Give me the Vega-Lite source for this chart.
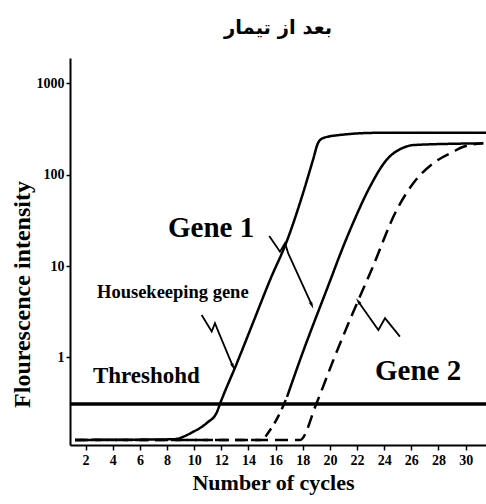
{
  "$schema": "https://vega.github.io/schema/vega-lite/v6.json",
  "width": 416,
  "height": 387,
  "autosize": "none",
  "padding": {"left": 70, "top": 58, "right": 0, "bottom": 59},
  "background": "white",
  "title": {"text": "بعد از تیمار", "font": "DejaVu Sans", "fontSize": 19.5, "fontWeight": "bold", "color": "black", "baseline": "alphabetic", "offset": 5},
  "config": {"view": {"stroke": null}, "axis": {"labelOverlap": false}},
  "datasets": {
    "curves": [
      {"series": "Housekeeping gene", "x": 1.22, "y": 0.125},
      {"series": "Housekeeping gene", "x": 8.44, "y": 0.127},
      {"series": "Housekeeping gene", "x": 9.91, "y": 0.153},
      {"series": "Housekeeping gene", "x": 10.94, "y": 0.192},
      {"series": "Housekeeping gene", "x": 11.68, "y": 0.253},
      {"series": "Housekeeping gene", "x": 11.9, "y": 0.31},
      {"series": "Housekeeping gene", "x": 13.15, "y": 0.87},
      {"series": "Housekeeping gene", "x": 14.33, "y": 2.39},
      {"series": "Housekeeping gene", "x": 15.59, "y": 7.06},
      {"series": "Housekeeping gene", "x": 16.84, "y": 19},
      {"series": "Housekeeping gene", "x": 18.02, "y": 63},
      {"series": "Housekeeping gene", "x": 18.75, "y": 145},
      {"series": "Housekeeping gene", "x": 19.12, "y": 222},
      {"series": "Housekeeping gene", "x": 19.49, "y": 252},
      {"series": "Housekeeping gene", "x": 20.74, "y": 273},
      {"series": "Housekeeping gene", "x": 23.47, "y": 288},
      {"series": "Housekeeping gene", "x": 31.5, "y": 288},
      {"series": "Gene 1 (baseline)", "x": 1.22, "y": 0.125},
      {"series": "Gene 1 (baseline)", "x": 15.0, "y": 0.125},
      {"series": "Gene 1 (baseline)", "x": 15.44, "y": 0.149},
      {"series": "Gene 1 (baseline)", "x": 16.32, "y": 0.247},
      {"series": "Gene 1 (baseline)", "x": 16.84, "y": 0.37},
      {"series": "Gene 1", "x": 16.84, "y": 0.37},
      {"series": "Gene 1", "x": 17.8, "y": 0.94},
      {"series": "Gene 1", "x": 20.13, "y": 7.67},
      {"series": "Gene 1", "x": 20.74, "y": 13.3},
      {"series": "Gene 1", "x": 21.72, "y": 30},
      {"series": "Gene 1", "x": 22.95, "y": 74},
      {"series": "Gene 1", "x": 24.18, "y": 146},
      {"series": "Gene 1", "x": 25.41, "y": 198},
      {"series": "Gene 1", "x": 26.2, "y": 212},
      {"series": "Gene 1", "x": 31.3, "y": 221},
      {"series": "Gene 2", "x": 1.22, "y": 0.125},
      {"series": "Gene 2", "x": 17.8, "y": 0.125},
      {"series": "Gene 2", "x": 19.03, "y": 0.32},
      {"series": "Gene 2", "x": 20.26, "y": 0.94},
      {"series": "Gene 2", "x": 21.72, "y": 3.15},
      {"series": "Gene 2", "x": 23.08, "y": 9.2},
      {"series": "Gene 2", "x": 24.92, "y": 41.2},
      {"series": "Gene 2", "x": 26.14, "y": 80.8},
      {"series": "Gene 2", "x": 27.62, "y": 134},
      {"series": "Gene 2", "x": 29.09, "y": 179},
      {"series": "Gene 2", "x": 29.83, "y": 203},
      {"series": "Gene 2", "x": 31.3, "y": 221}
    ],
    "threshold": [{"threshold": 0.31}],
    "arrows": [
      {"arrow": "hk", "x": 10.55, "y": 2.92},
      {"arrow": "hk", "x": 11.29, "y": 1.92},
      {"arrow": "hk", "x": 11.53, "y": 2.37},
      {"arrow": "hk", "x": 11.78, "y": 1.92},
      {"arrow": "hk", "x": 12.85, "y": 0.8},
      {"arrow": "g1", "x": 15.53, "y": 21.4},
      {"arrow": "g1", "x": 16.32, "y": 14.4},
      {"arrow": "g1", "x": 16.69, "y": 17.8},
      {"arrow": "g1", "x": 16.93, "y": 13.8},
      {"arrow": "g1", "x": 18.66, "y": 3.76},
      {"arrow": "g2", "x": 25.16, "y": 1.69},
      {"arrow": "g2", "x": 24.06, "y": 2.69},
      {"arrow": "g2", "x": 23.57, "y": 2.0},
      {"arrow": "g2", "x": 22.1, "y": 4.08}
    ],
    "tips": [
      {"arrow": "hk", "x": 12.85, "y": 0.8},
      {"arrow": "g1", "x": 18.66, "y": 3.76},
      {"arrow": "g2", "x": 22.1, "y": 4.08}
    ],
    "bigLabels": [
      {"label": "Gene 1", "x": 8.07, "y": 20.9},
      {"label": "Gene 2", "x": 23.32, "y": 0.567}
    ],
    "midLabels": [
      {"label": "Threshohd", "x": 2.54, "y": 0.526}
    ],
    "smallLabels": [
      {"label": "Housekeeping gene", "x": 2.84, "y": 4.48}
    ]
  },
  "layer": [
    {
      "data": {"name": "curves"},
      "mark": {"type": "line", "interpolate": "monotone", "strokeWidth": 2.5, "color": "black"},
      "encoding": {
        "x": {"field": "x", "type": "quantitative",
          "scale": {"domain": [0.85, 31.5], "nice": false, "zero": false},
          "axis": {"values": [2, 4, 6, 8, 10, 12, 14, 16, 18, 20, 22, 24, 26, 28, 30], "tickCount": 30, "title": "Number of cycles", "grid": false, "labelOverlap": false,
            "titleFont": "Liberation Serif", "titleFontSize": 22, "titleFontWeight": "bold", "titleColor": "black", "titlePadding": 5, "titleX": 203,
            "labelFont": "Liberation Serif", "labelFontSize": 14, "labelFontWeight": "bold", "labelColor": "black", "labelPadding": 3,
            "domainColor": "black", "domainWidth": 2, "tickColor": "black", "tickWidth": 1.5, "tickSize": 5}},
        "y": {"field": "y", "type": "quantitative",
          "scale": {"type": "log", "domain": [0.11, 1900], "nice": false},
          "axis": {"values": [1, 10, 100, 1000], "tickCount": 10, "format": "d", "title": "Flourescence intensity", "grid": false,
            "titleFont": "Liberation Serif", "titleFontSize": 24, "titleFontWeight": "bold", "titleColor": "black", "titlePadding": 2, "titleY": 236,
            "labelFont": "Liberation Serif", "labelFontSize": 14, "labelFontWeight": "bold", "labelColor": "black", "labelPadding": 2,
            "domainColor": "black", "domainWidth": 2, "tickColor": "black", "tickWidth": 1.5, "tickSize": 4}},
        "detail": {"field": "series", "type": "nominal"},
        "strokeDash": {"field": "series", "type": "nominal",
          "scale": {"domain": ["Housekeeping gene", "Gene 1 (baseline)", "Gene 1", "Gene 2"], "range": [[1, 0], [10, 6], [1, 0], [13, 7]]},
          "legend": null}
      }
    },
    {
      "data": {"name": "threshold"},
      "mark": {"type": "rule", "strokeWidth": 3.5, "color": "black"},
      "encoding": {"y": {"field": "threshold", "type": "quantitative"}}
    },
    {
      "data": {"name": "arrows"},
      "mark": {"type": "line", "strokeWidth": 1.8, "color": "black"},
      "encoding": {
        "x": {"field": "x", "type": "quantitative"},
        "y": {"field": "y", "type": "quantitative"},
        "detail": {"field": "arrow", "type": "nominal"}
      }
    },
    {
      "data": {"name": "tips"},
      "transform": [{"filter": "datum.arrow == 'hk'"}],
      "mark": {"type": "point", "shape": "M0,-1L0.4,0.7L-0.4,0.7Z", "filled": true, "color": "black", "opacity": 1, "size": 70, "angle": 157},
      "encoding": {"x": {"field": "x", "type": "quantitative"}, "y": {"field": "y", "type": "quantitative"}}
    },
    {
      "data": {"name": "tips"},
      "transform": [{"filter": "datum.arrow == 'g1'"}],
      "mark": {"type": "point", "shape": "M0,-1L0.4,0.7L-0.4,0.7Z", "filled": true, "color": "black", "opacity": 1, "size": 70, "angle": 156},
      "encoding": {"x": {"field": "x", "type": "quantitative"}, "y": {"field": "y", "type": "quantitative"}}
    },
    {
      "data": {"name": "tips"},
      "transform": [{"filter": "datum.arrow == 'g2'"}],
      "mark": {"type": "point", "shape": "M0,-1L0.4,0.7L-0.4,0.7Z", "filled": true, "color": "black", "opacity": 1, "size": 70, "angle": 325},
      "encoding": {"x": {"field": "x", "type": "quantitative"}, "y": {"field": "y", "type": "quantitative"}}
    },
    {
      "data": {"name": "bigLabels"},
      "mark": {"type": "text", "font": "Liberation Serif", "fontWeight": "bold", "fontSize": 29, "align": "left", "baseline": "alphabetic", "color": "black"},
      "encoding": {"x": {"field": "x", "type": "quantitative"}, "y": {"field": "y", "type": "quantitative"}, "text": {"field": "label"}}
    },
    {
      "data": {"name": "midLabels"},
      "mark": {"type": "text", "font": "Liberation Serif", "fontWeight": "bold", "fontSize": 23, "align": "left", "baseline": "alphabetic", "color": "black"},
      "encoding": {"x": {"field": "x", "type": "quantitative"}, "y": {"field": "y", "type": "quantitative"}, "text": {"field": "label"}}
    },
    {
      "data": {"name": "smallLabels"},
      "mark": {"type": "text", "font": "Liberation Serif", "fontWeight": "bold", "fontSize": 18.5, "align": "left", "baseline": "alphabetic", "color": "black"},
      "encoding": {"x": {"field": "x", "type": "quantitative"}, "y": {"field": "y", "type": "quantitative"}, "text": {"field": "label"}}
    }
  ]
}
